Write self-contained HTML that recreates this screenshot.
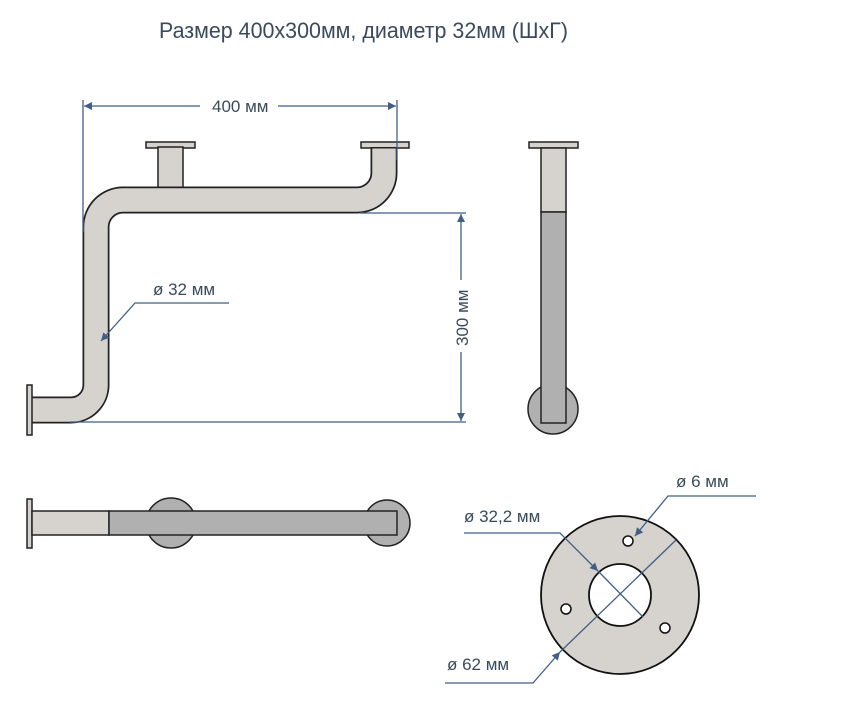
<!DOCTYPE html>
<html><head><meta charset="utf-8"><style>
html,body{margin:0;padding:0;background:#fff;}
svg{display:block;}
text{font-family:"Liberation Sans",sans-serif;fill:#3a4a5c;}
</style></head><body>
<svg width="861" height="707" viewBox="0 0 861 707" xmlns="http://www.w3.org/2000/svg">
<defs>
<marker id="a" viewBox="0 0 10 10" refX="10" refY="5" markerWidth="12" markerHeight="8" orient="auto-start-reverse" markerUnits="userSpaceOnUse"><path d="M0,0 L10,5 L0,10 z" fill="#3f5f85"/></marker>
</defs>
<text x="159" y="38" font-size="22" textLength="409" lengthAdjust="spacingAndGlyphs">Размер 400х300мм, диаметр 32мм (ШхГ)</text>

<!-- main pipe -->
<rect x="146" y="142" width="49" height="6" fill="#d6d2cd" stroke="#222" stroke-width="1.5"/>
<rect x="158" y="147" width="25" height="42" fill="#d6d2cd" stroke="#222" stroke-width="1.5"/>
<rect x="361" y="142" width="48" height="6" fill="#d6d2cd" stroke="#222" stroke-width="1.5"/>
<path d="M32,410 L71,410 A25,25 0 0 0 96,385 L96,227 A27,27 0 0 1 123,200 L357,200 A27,27 0 0 0 384,173 L384,147" fill="none" stroke="#222" stroke-width="27"/>
<path d="M31,410 L71,410 A25,25 0 0 0 96,385 L96,227 A27,27 0 0 1 123,200 L357,200 A27,27 0 0 0 384,173 L384,148.5" fill="none" stroke="#d6d2cd" stroke-width="23.5"/>
<rect x="27" y="385" width="5" height="50" fill="#d6d2cd" stroke="#222" stroke-width="1.5"/>

<!-- dimensions -->
<g stroke="#3f5f85" stroke-width="1.3" fill="none">
<line x1="83" y1="100" x2="83" y2="232"/>
<line x1="397" y1="100" x2="397" y2="160"/>
<line x1="84" y1="106" x2="200" y2="106" marker-start="url(#a)"/>
<line x1="278" y1="106" x2="396" y2="106" marker-end="url(#a)"/>
<line x1="360" y1="213" x2="466" y2="213"/>
<line x1="70" y1="422" x2="466" y2="422"/>
<line x1="461" y1="214" x2="461" y2="280" marker-start="url(#a)"/>
<line x1="461" y1="352" x2="461" y2="421" marker-end="url(#a)"/>
<polyline points="229,303 135,303 101,341" marker-end="url(#a)"/>
</g>
<text x="212" y="112" font-size="17">400 мм</text>
<text transform="translate(468,346) rotate(-90)" font-size="17">300 мм</text>
<text x="153" y="295" font-size="17">ø 32 мм</text>

<!-- side view -->
<circle cx="553" cy="409" r="25" fill="#b0b0b0" stroke="#222" stroke-width="1.5"/>
<rect x="529" y="142" width="49" height="6" fill="#d6d2cd" stroke="#222" stroke-width="1.5"/>
<rect x="541" y="148" width="25" height="64" fill="#d6d2cd" stroke="#222" stroke-width="1.5"/>
<rect x="541" y="212" width="25" height="211" fill="#b0b0b0" stroke="#222" stroke-width="1.5"/>

<!-- bottom view -->
<circle cx="171" cy="523" r="25" fill="#b0b0b0" stroke="#222" stroke-width="1.5"/>
<circle cx="387" cy="523" r="23" fill="#b0b0b0" stroke="#222" stroke-width="1.5"/>
<rect x="27" y="499" width="5" height="49" fill="#d6d2cd" stroke="#222" stroke-width="1.5"/>
<rect x="32" y="511" width="77" height="24" fill="#d6d2cd" stroke="#222" stroke-width="1.5"/>
<rect x="109" y="511" width="288" height="24" fill="#b0b0b0" stroke="#222" stroke-width="1.5"/>

<!-- flange disk -->
<circle cx="620" cy="595" r="79" fill="#d6d2cd" stroke="#111" stroke-width="1.8"/>
<circle cx="620" cy="595" r="31" fill="#fff" stroke="#111" stroke-width="1.8"/>
<circle cx="628" cy="541" r="5" fill="#fff" stroke="#111" stroke-width="1.5"/>
<circle cx="566" cy="609" r="5" fill="#fff" stroke="#111" stroke-width="1.5"/>
<circle cx="665" cy="628" r="5" fill="#fff" stroke="#111" stroke-width="1.5"/>
<g stroke="#3f5f85" stroke-width="1.3" fill="none">
<polyline points="756,496 668,496 635,536" marker-end="url(#a)"/>
<polyline points="464,533 560,533 598,571" marker-end="url(#a)"/>
<line x1="598" y1="571" x2="643" y2="617"/>
<polyline points="445,683 533,683 560,652" marker-end="url(#a)"/>
<line x1="560" y1="652" x2="676" y2="540"/>
</g>
<text x="676" y="487" font-size="17">ø 6 мм</text>
<text x="464" y="522" font-size="17">ø 32,2 мм</text>
<text x="447" y="670" font-size="17">ø 62 мм</text>
</svg>
</body></html>
